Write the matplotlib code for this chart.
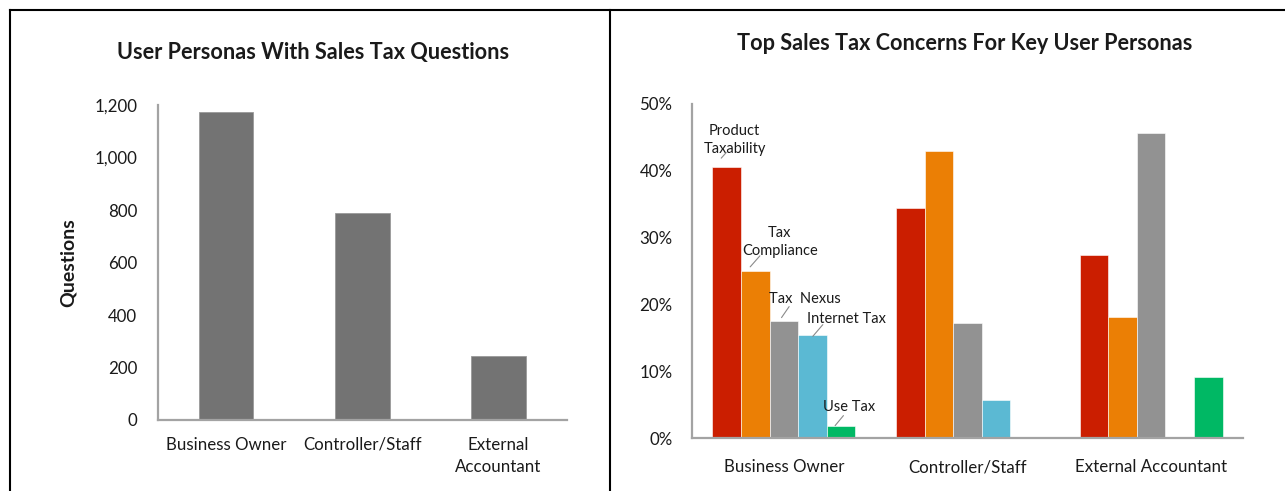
import matplotlib
matplotlib.use("Agg")
import matplotlib.pyplot as plt
from matplotlib.lines import Line2D
from matplotlib.ticker import FuncFormatter
from matplotlib.transforms import offset_copy

plt.rcParams['font.family'] = ['Lato', 'DejaVu Sans']

# ---- data ----
personas = ["Business Owner", "Controller/Staff", "External\nAccountant"]
question_counts = [1173, 787, 245]

concern_personas = ["Business Owner", "Controller/Staff", "External Accountant"]
concerns = ["Product Taxability", "Tax Compliance", "Tax Nexus", "Internet Tax", "Use Tax"]
concern_shares = {
    "Product Taxability": [40.6, 34.4, 27.4],
    "Tax Compliance":     [25.0, 42.9, 18.1],
    "Tax Nexus":          [17.5, 17.2, 45.7],
    "Internet Tax":       [15.5, 5.7, 0.0],
    "Use Tax":            [1.9, 0.0, 9.1],
}
concern_colors = ["#CB1E00", "#EB7F05", "#929292", "#5BB9D3", "#00B864"]
left_ticks = [0, 200, 400, 600, 800, 1000, 1200]
right_ticks = [0, 10, 20, 30, 40, 50]

W, H = 1285, 491
fig = plt.figure(figsize=(W / 100, H / 100), dpi=100)
AXIS_GREY = "#A3A3A3"
TXT = "#1a1a1a"


def style_axes(ax):
    for s in ("top", "right"):
        ax.spines[s].set_visible(False)
    for s in ("left", "bottom"):
        ax.spines[s].set_color(AXIS_GREY)
        ax.spines[s].set_linewidth(1.6)
    ax.tick_params(length=0, labelsize=12.2, colors=TXT)


# ---- left panel: question volume by persona ----
axL = fig.add_axes([158 / W, 1 - 420 / H, (566.7 - 158) / W, (420 - 105) / H])
style_axes(axL)
axL.bar(range(len(personas)), question_counts, width=0.4, color="#737373",
        edgecolor="#9a9a9a", linewidth=0.6)
axL.set_xlim(-0.5, len(personas) - 0.5)
axL.set_ylim(0, 1200)
axL.set_yticks(left_ticks)
axL.yaxis.set_major_formatter(FuncFormatter(lambda v, p: f"{int(v):,}"))
axL.tick_params(axis="y", pad=15)
axL.tick_params(axis="x", pad=12)
axL.set_xticks(range(len(personas)))
axL.set_xticklabels(personas, linespacing=1.45)
axL.set_ylabel("Questions", fontsize=14, fontweight="bold", color=TXT)
axL.yaxis.set_label_coords(-0.198, 0.5)
fig.text(313.5 / W, 1 - 52 / H, "User Personas With Sales Tax Questions",
         ha="center", va="center", fontsize=15.6, fontweight="bold", color=TXT)

# ---- right panel: concern share by persona ----
axR = fig.add_axes([692 / W, 1 - 438.3 / H, (1243 - 692) / W, (438.3 - 104) / H])
style_axes(axR)
bw = 0.156
n = len(concerns)
bar_pos = {}
for i, (name, col) in enumerate(zip(concerns, concern_colors)):
    xs = [c + (i - (n - 1) / 2) * bw for c in range(len(concern_personas))]
    vals = concern_shares[name]
    drawn = [(x, v) for x, v in zip(xs, vals) if v > 0]
    axR.bar([d[0] for d in drawn], [d[1] for d in drawn], width=bw, color=col,
            edgecolor="white", linewidth=0.4)
    bar_pos[name] = (xs[0], vals[0])
axR.set_xlim(-0.5, len(concern_personas) - 0.5)
axR.set_ylim(0, 50)
axR.set_yticks(right_ticks)
axR.yaxis.set_major_formatter(FuncFormatter(lambda v, p: f"{int(v)}%"))
axR.tick_params(axis="y", pad=14)
axR.tick_params(axis="x", pad=15)
axR.set_xticks(range(len(concern_personas)))
axR.set_xticklabels(concern_personas)
fig.text(965 / W, 1 - 44 / H, "Top Sales Tax Concerns For Key User Personas",
         ha="center", va="center", fontsize=15.6, fontweight="bold", color=TXT)


def off(dx, dy):
    return offset_copy(axR.transData, fig=fig, x=dx, y=dy, units="dots")


# labels for the Business Owner group: (text, text offset px, leader start, leader end)
labels = {
    "Product Taxability": ("Product\nTaxability", (8, 27), (-5.3, 8.7), (-0.3, 14.3)),
    "Tax Compliance": ("Tax\nCompliance", (24.7, 29.5), (-5, 4.3), (4.7, 15.3)),
    "Tax Nexus": ("Tax  Nexus", (21.5, 22), (-2.3, 3.7), (5.3, 14.7)),
    "Internet Tax": ("Internet Tax", (33.7, 15.7), (0.3, -1.7), (10.3, 10)),
    "Use Tax": ("Use Tax", (8, 19), (-6, 0), (2.3, 10)),
}
for name, (txt, toff, l0, l1) in labels.items():
    x, v = bar_pos[name]
    axR.text(x, v, txt, transform=off(*toff), ha="center", va="center",
             fontsize=10.5, color=TXT, linespacing=1.35)
    axR.annotate("", xy=(x, v), xycoords=off(*l0), xytext=(x, v), textcoords=off(*l1),
                 arrowprops=dict(arrowstyle="-", color="#8a8a8a", lw=0.8,
                                 shrinkA=0, shrinkB=0))

# ---- table borders ----
for xs, ys in [((10, W), (10, 10)), ((10, 10), (10, H)), ((610, 610), (10, H))]:
    fig.add_artist(Line2D([x / W for x in xs], [1 - y / H for y in ys],
                          color="black", lw=1.5, transform=fig.transFigure))

fig.savefig("out.png", dpi=100, facecolor="white")
